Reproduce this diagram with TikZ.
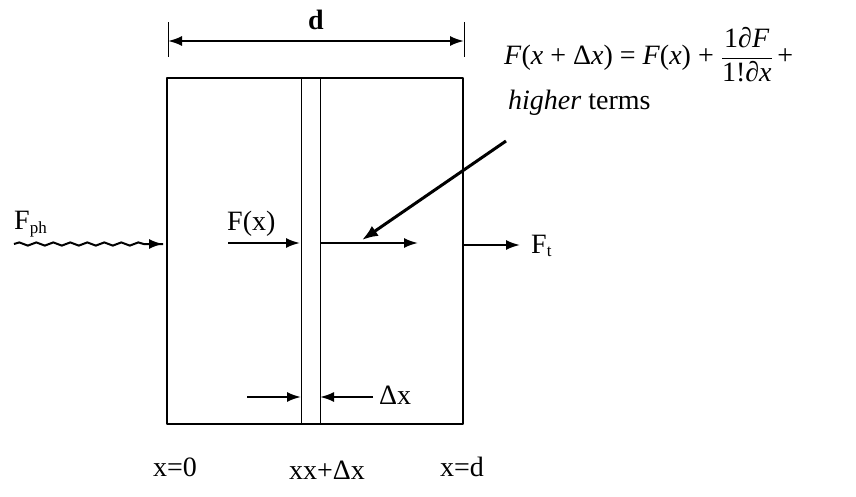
\documentclass[tikz,border=0pt]{standalone}
\usepackage{fontspec}
\setmainfont{Liberation Serif}
\usepackage{tikz}
\usetikzlibrary{calc,arrows.meta,decorations.pathmorphing,positioning}

\begin{document}
\begin{tikzpicture}[x=1pt, y=-1pt, line join=round,
  font=\fontsize{28}{30}\selectfont,
  force/.style={line width=2pt, -{Latex[length=14pt,width=10pt]}},
  lbl/.style={inner sep=1pt}]
\useasboundingbox (0,0) rectangle (856,496);
\begin{scope}[shift={(0,0)}]
\coordinate (tl) at (167,78);
\coordinate (br) at (463,424);
\draw[line width=1.6pt] (tl) rectangle (br);
\draw[line width=0.9pt] (301,78) -- (301,424);
\draw[line width=0.9pt] (320,78) -- (320,424);
% width d
\coordinate (dl) at (168,41);
\coordinate (dr) at (464,41);
\draw (168,22) -- (168,57);
\draw (464,22) -- (464,57);
\draw[force, {Latex[length=14pt,width=10pt]}-{Latex[length=14pt,width=10pt]}] (dl) -- (dr);
\node[lbl] (d) at (316,20) {\textbf{d}};
% forces
\coordinate (ph1) at (14,244);
\coordinate (ph2) at (163,244);
\draw[line width=2pt, decoration={snake, amplitude=1.6pt, segment length=17pt, post length=14pt}, decorate] (ph1) -- (ph2);
\draw[force] ($(ph2)+(-15,0)$) -- (ph2);
\node[lbl, anchor=south west] (Fph) at (13,238) {F\textsubscript{\fontsize{17}{19}\selectfont ph}};
\coordinate (fx1) at (228,243);
\coordinate (fx2) at (300,243);
\draw[force] (fx1) -- (fx2);
\node[lbl, anchor=south west] (Fx) at (226,238) {F(x)};
\coordinate (fd1) at (321,243);
\coordinate (fd2) at (418,243);
\draw[force] (fd1) -- (fd2);
\coordinate (ft1) at (463,245);
\coordinate (ft2) at (520,245);
\draw[force] (ft1) -- (ft2);
\node[lbl, anchor=west] (Ft) at (530,246) {F\textsubscript{\fontsize{17}{19}\selectfont t}};
% Taylor expansion
\node[lbl, anchor=west] (taylor) at (503,55) {\textit{F}(\textit{x} + Δ\textit{x}) = \textit{F}(\textit{x}) + $\displaystyle\frac{\mbox{1∂\textit{F}}}{\mbox{1!∂\textit{x}}}$\,+};
\node[lbl, anchor=west] (higher) at (507,103) {\textit{higher} terms};
\draw[line width=3pt, -{Latex[length=16pt,width=12pt]}] (higher.west) ++(-1,38) -- (362,240);
% element width
\coordinate (a1) at (247,397);
\coordinate (a2) at (301,397);
\coordinate (b1) at (373,397);
\coordinate (b2) at (320,397);
\draw[force] (a1) -- (a2);
\draw[force] (b1) -- (b2);
\node[lbl, anchor=west] (dx) at (378,395) {Δx};
% positions
\node[lbl] (x0) at (175,467) {x=0};
\node[lbl] (xdx) at (327,470) {xx+Δx};
\node[lbl] (xd) at (462,467) {x=d};
\end{scope}
\end{tikzpicture}
\end{document}
